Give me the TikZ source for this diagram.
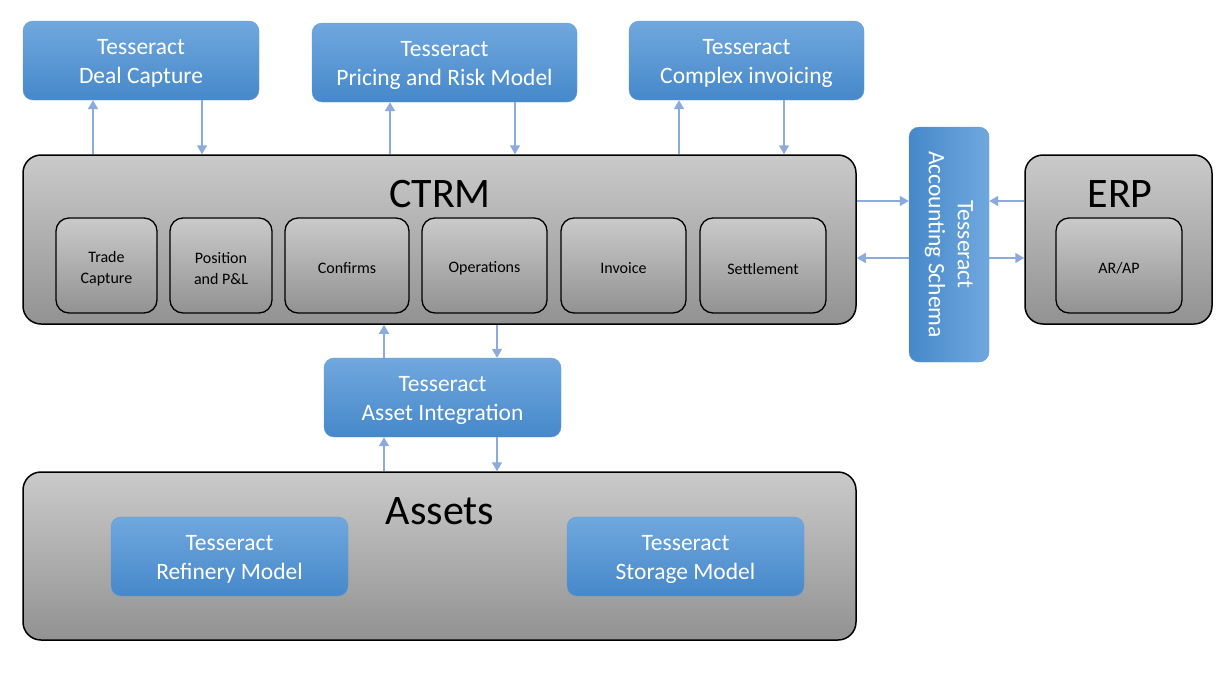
\documentclass[tikz,border=0pt]{standalone}
\usepackage{fontspec}
\setmainfont{Carlito}
\usetikzlibrary{arrows.meta}
\definecolor{tessTop}{RGB}{112,168,222}
\definecolor{tessBot}{RGB}{70,136,202}
\definecolor{tessLine}{RGB}{98,155,214}
\definecolor{grayTop}{RGB}{202,202,202}
\definecolor{grayBot}{RGB}{146,146,146}
\definecolor{flowBlue}{RGB}{140,170,222}
\tikzset{
  tesstext/.style={text=white, align=center, font=\fontsize{23.5}{29}\selectfont, yshift=-3pt},
  tess/.style={draw=tessLine, rounded corners=10pt, top color=tessTop, bottom color=tessBot,
    minimum height=79pt, inner sep=0pt, label={[tesstext]center:#1}},
  tessbar/.style={draw=tessLine, rounded corners=10pt, left color=tessBot, right color=tessTop,
    text=white, align=center, font=\fontsize{23.5}{29}\selectfont, inner sep=0pt},
  sys/.style={draw, line width=1.5pt, rounded corners=18pt, top color=grayTop, bottom color=grayBot, inner sep=0pt},
  parttext/.style={align=center, font=\fontsize{16}{21}\selectfont, yshift=-3pt},
  part/.style={draw, line width=1.3pt, rounded corners=13pt, top color=grayTop, bottom color=grayBot,
    minimum height=95pt, inner sep=0pt, label={[parttext]center:#1}},
  title/.style={font=\fontsize{42}{42}\selectfont},
  flow/.style={draw=flowBlue, line width=1.5pt, -{Triangle[length=9pt,width=10pt]}}
}
\begin{document}
\begin{tikzpicture}[x=1pt,y=-1pt]
\useasboundingbox (0,0) rectangle (1232,678);
% top services
\node[tess={Tesseract\\Deal Capture}, minimum width=236pt] (deal) at (141,60.5) {};
\node[tess={Tesseract\\Pricing and Risk Model}, minimum width=265pt] (pricing) at (444.5,62.5) {};
\node[tess={Tesseract\\Complex invoicing}, minimum width=235pt] (invoicing) at (746.5,60.5) {};
% CTRM
\node[sys, minimum width=833pt, minimum height=169pt] (ctrm) at (439.5,239.5) {};
\node[title] (ctrmname) at (440,194) {CTRM};
\node[part={Trade\\Capture}, minimum width=101pt] (trade) at (106.5,265.5) {};
\node[part={Position\\and P\&L}, minimum width=102pt] (position) at (221,265.5) {};
\node[part=Confirms, minimum width=124pt] (confirms) at (347,265.5) {};
\node[part=Operations, minimum width=125pt] (operations) at (484.5,265.5) {};
\node[part=Invoice, minimum width=125pt] (invoice) at (623.5,265.5) {};
\node[part=Settlement, minimum width=126pt] (settlement) at (763,265.5) {};
% accounting and ERP
\node[tessbar, rotate=-90, minimum width=235pt, minimum height=80pt] (schema) at (949,244.5)
  {Tesseract\\Accounting Schema};
\node[sys, minimum width=187pt, minimum height=169pt] (erp) at (1118.5,239.5) {};
\node[title] (erpname) at (1120,194) {ERP};
\node[part=AR/AP, minimum width=126pt] (arap) at (1119,265.5) {};
% assets
\node[tess={Tesseract\\Asset Integration}, minimum width=237pt] (integration) at (442.5,397.5) {};
\node[sys, minimum width=833pt, minimum height=168pt] (assets) at (439.5,556) {};
\node[title] (assetsname) at (440,511.5) {Assets};
\node[tess={Tesseract\\Refinery Model}, minimum width=237pt] (refinery) at (229.5,556.5) {};
\node[tess={Tesseract\\Storage Model}, minimum width=237pt] (storage) at (685.5,556.5) {};
% links
\draw[flow] ([xshift=-48pt]deal.south |- ctrm.north) -- ([xshift=-48pt]deal.south);
\draw[flow] ([xshift=61pt]deal.south) -- ([xshift=61pt]deal.south |- ctrm.north);
\draw[flow] ([xshift=-54.5pt]pricing.south |- ctrm.north) -- ([xshift=-54.5pt]pricing.south);
\draw[flow] ([xshift=70.5pt]pricing.south) -- ([xshift=70.5pt]pricing.south |- ctrm.north);
\draw[flow] ([xshift=-67.5pt]invoicing.south |- ctrm.north) -- ([xshift=-67.5pt]invoicing.south);
\draw[flow] ([xshift=37.5pt]invoicing.south) -- ([xshift=37.5pt]invoicing.south |- ctrm.north);
\draw[flow] ([yshift=38.5pt]ctrm.east) -- ([yshift=38.5pt]ctrm.east -| schema.south);
\draw[flow] ([yshift=-18.5pt]ctrm.east -| schema.south) -- ([yshift=-18.5pt]ctrm.east);
\draw[flow] ([yshift=38.5pt]erp.west) -- ([yshift=38.5pt]erp.west -| schema.north);
\draw[flow] ([yshift=-18.5pt]erp.west -| schema.north) -- ([yshift=-18.5pt]erp.west);
\draw[flow] ([xshift=-58.5pt]integration.north) -- ([xshift=-58.5pt]integration.north |- ctrm.south);
\draw[flow] ([xshift=54.5pt]integration.north |- ctrm.south) -- ([xshift=54.5pt]integration.north);
\draw[flow] ([xshift=-58.5pt]integration.south |- assets.north) -- ([xshift=-58.5pt]integration.south);
\draw[flow] ([xshift=54.5pt]integration.south) -- ([xshift=54.5pt]integration.south |- assets.north);
\end{tikzpicture}
\end{document}
